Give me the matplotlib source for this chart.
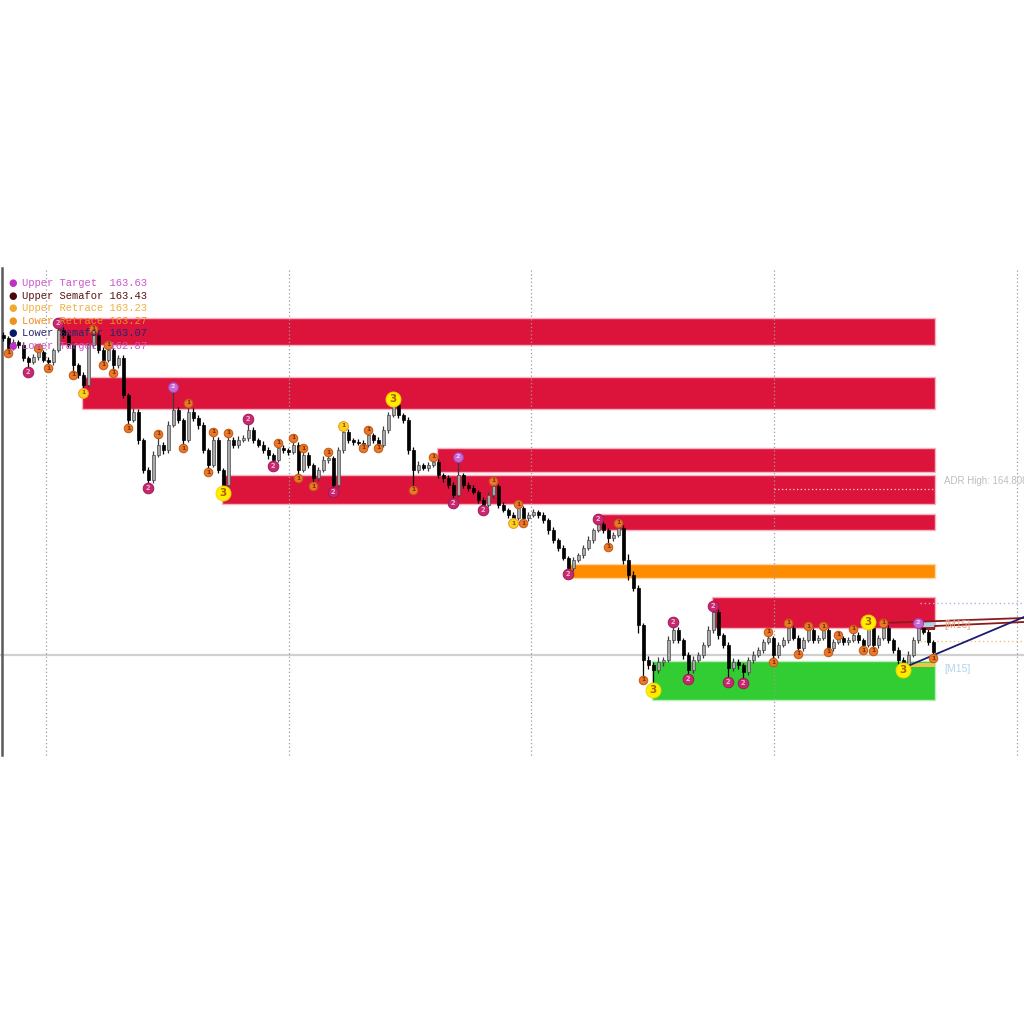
import matplotlib
matplotlib.use('Agg')
import matplotlib.pyplot as plt
from matplotlib.patches import Rectangle

# ---------------- data (prices) ----------------
first_open = 164.65
closes = [
    164.62, 164.52, 164.58, 164.55, 164.42, 164.38, 164.43, 164.48, 164.40, 164.38,
    164.50, 164.70, 164.65, 164.55, 164.35, 164.25, 164.15, 164.55, 164.65, 164.50,
    164.40, 164.50, 164.35, 164.42, 164.05, 163.80, 163.88, 163.60, 163.30, 163.20,
    163.45, 163.55, 163.50, 163.75, 163.90, 163.80, 163.60, 163.88, 163.82, 163.75,
    163.50, 163.35, 163.60, 163.30, 163.15, 163.60, 163.55, 163.60, 163.62, 163.70,
    163.60, 163.55, 163.50, 163.45, 163.40, 163.52, 163.50, 163.48, 163.55, 163.30,
    163.45, 163.35, 163.22, 163.30, 163.40, 163.42, 163.15, 163.50, 163.68, 163.60,
    163.58, 163.57, 163.55, 163.65, 163.60, 163.55, 163.70, 163.85, 163.95, 163.85,
    163.80, 163.50, 163.30, 163.35, 163.32, 163.35, 163.38, 163.25, 163.22, 163.15,
    163.05, 163.25, 163.15, 163.12, 163.08, 163.00, 162.95, 163.05, 163.14, 162.95,
    162.90, 162.85, 162.82, 162.92, 162.82, 162.85, 162.88, 162.85, 162.80, 162.70,
    162.60, 162.52, 162.42, 162.32, 162.40, 162.45, 162.52, 162.60, 162.70, 162.76,
    162.70, 162.62, 162.65, 162.72, 162.40, 162.25, 162.12, 161.75, 161.40, 161.35,
    161.30, 161.38, 161.40, 161.60, 161.70, 161.60, 161.45, 161.30, 161.40, 161.45,
    161.55, 161.70, 161.88, 161.65, 161.55, 161.32, 161.38, 161.35, 161.28, 161.40,
    161.45, 161.50, 161.58, 161.62, 161.45, 161.55, 161.60, 161.72, 161.62, 161.52,
    161.60, 161.70, 161.60, 161.62, 161.70, 161.52, 161.58, 161.62, 161.58, 161.60,
    161.65, 161.60, 161.55, 161.72, 161.55, 161.62, 161.72, 161.60, 161.50, 161.40,
    161.35, 161.45, 161.60, 161.72, 161.68, 161.58, 161.48,
]
# wick lengths above / below the body, in pips (0.01)
wick_up = [
    3, 2, 3, 2, 3, 2, 3, 4, 2, 3,
    2, 7, 3, 2, 3, 2, 3, 3, 6, 2,
    3, 5, 2, 3, 3, 2, 4, 3, 2, 3,
    4, 11, 3, 4, 23, 3, 2, 9, 4, 3,
    3, 2, 8, 3, 2, 7, 3, 4, 3, 11,
    3, 2, 4, 3, 2, 5, 3, 2, 7, 3,
    7, 3, 2, 3, 4, 6, 2, 3, 6, 3,
    2, 3, 3, 5, 2, 3, 4, 3, 6, 3,
    2, 3, 3, 4, 2, 3, 5, 3, 2, 3,
    3, 18, 2, 3, 3, 2, 3, 3, 5, 2,
    3, 2, 3, 4, 2, 3, 3, 2, 3, 2,
    3, 2, 3, 2, 3, 2, 3, 4, 2, 5,
    3, 2, 3, 5, 3, 6, 4, 3, 2, 4,
    3, 5, 3, 4, 8, 3, 2, 3, 4, 3,
    3, 4, 6, 3, 2, 3, 4, 3, 2, 3,
    4, 3, 3, 6, 2, 3, 3, 5, 2, 3,
    3, 4, 2, 3, 4, 2, 3, 3, 2, 3,
    6, 3, 2, 6, 2, 3, 5, 3, 2, 3,
    3, 4, 3, 5, 4, 3, 2,
]
wick_dn = [
    3, 5, 2, 3, 3, 10, 2, 3, 2, 6,
    3, 2, 3, 2, 10, 3, 8, 2, 3, 3,
    5, 2, 8, 3, 3, 8, 2, 4, 3, 8,
    3, 2, 4, 3, 2, 3, 8, 2, 3, 4,
    3, 7, 2, 3, 8, 2, 3, 3, 2, 3,
    3, 2, 3, 4, 6, 2, 3, 3, 2, 8,
    2, 3, 8, 3, 2, 3, 7, 2, 3, 3,
    3, 2, 3, 2, 3, 3, 2, 3, 2, 3,
    3, 4, 20, 3, 2, 3, 2, 3, 4, 3,
    8, 2, 3, 3, 2, 3, 5, 2, 3, 3,
    2, 3, 5, 2, 5, 3, 2, 3, 3, 4,
    3, 3, 2, 6, 3, 2, 3, 2, 3, 2,
    3, 9, 3, 2, 4, 5, 3, 8, 20, 4,
    20, 3, 4, 2, 3, 3, 4, 9, 3, 2,
    3, 2, 3, 4, 3, 14, 3, 4, 11, 3,
    3, 2, 3, 2, 7, 3, 2, 3, 2, 6,
    3, 2, 3, 3, 2, 4, 3, 2, 3, 3,
    2, 3, 5, 2, 6, 3, 2, 3, 3, 4,
    5, 3, 2, 3, 2, 3, 6,
]

# semafor signals: candle index and level ('1' small, '2' medium, '2v' target, '3' big, 'r' retrace)
upper_idx = [7, 11, 18, 21, 31, 34, 37, 42, 45, 49, 55, 58, 60, 65, 68, 73, 78, 86, 91, 98,
             103, 119, 123, 134, 142, 153, 157, 161, 164, 167, 170, 173, 176, 183]
upper_lvl = ['1', '2', '1', '1', '1', '2v', '1', '1', '1', '2', '1', '1', '1', '1', 'r', '1', '3', '1', '2v', '1',
             '1', '2', '1', '2', '2', '1', '1', '1', '1', '1', '1', '3', '1', '2v']
lower_idx = [1, 5, 9, 14, 16, 20, 22, 25, 29, 36, 41, 44, 54, 59, 62, 66, 72, 75, 82, 90,
             96, 102, 104, 113, 121, 128, 130, 137, 145, 148, 154, 159, 165, 172, 174, 180, 186]
lower_lvl = ['1', '2', '1', '1', 'r', '1', '1', '1', '2', '1', '1', '3', '2', '1', '1', '2', '1', '1', '1', '2',
             '2', 'r', '1', '2', '1', '1', '3', '2', '2', '2', '1', '1', '1', '1', '1', '3', '1']

# supply / demand zones
zone_start = [11, 16, 87, 44, 119, 113, 142, 130]
zone_top = [164.82, 164.23, 163.52, 163.25, 162.86, 162.36, 162.03, 161.39]
zone_bottom = [164.55, 163.91, 163.28, 162.96, 162.70, 162.22, 161.72, 161.00]
zone_kind = ['supply', 'supply', 'supply', 'supply', 'supply', 'retrace', 'supply', 'demand']

session_breaks = [8.6, 57.2, 105.6, 154.2, 202.8]
current_price = 161.45
adr_high_level = 163.11
adr_start = 154.2
upper_target_level = 161.97
lower_retrace_level = 161.59

legend_names = ['Upper Target ', 'Upper Semafor', 'Upper Retrace', 'Lower Retrace', 'Lower Semafor', 'Lower Target ']
legend_values = ['163.63', '163.43', '163.23', '163.27', '163.07', '162.87']
legend_text_colors = ['#CC55CC', '#5A1414', '#F0B040', '#F08A20', '#26266E', '#CC55CC']
legend_dot_colors = ['#C030C8', '#4A0808', '#F0A830', '#F09020', '#0A1A6A', '#C030C8']
adr_label = 'ADR High: 164.808'
tf_label = '[M15]'

# trend lines: (index, price) pairs
res_line_a = [(176, 161.77), (204.2, 161.82)]
res_line_b = [(186.4, 161.74), (204.2, 161.78)]
sup_line = [(180, 161.32), (204.2, 161.83)]

# ---------------- figure ----------------
fig = plt.figure(figsize=(10.24, 10.24), dpi=100)
ax = fig.add_axes([0, 0, 1, 1])
ax.set_xlim(-0.6, 204.2)
ax.set_ylim(157.76, 168.0)
ax.axis('off')

n = len(closes)
last = n - 1 + 0.4
y_top, y_bot = 165.32, 160.45

opens = [first_open] + closes[:-1]
highs = [max(o, c) + w * 0.01 for o, c, w in zip(opens, closes, wick_up)]
lows = [min(o, c) - w * 0.01 for o, c, w in zip(opens, closes, wick_dn)]

# left border & current price line
ax.plot([-0.2, -0.2], [y_bot, y_top], color='#5A5A5A', lw=1.8, zorder=1)
ax.axhline(current_price, color='#D0D0D0', lw=1.6, zorder=0.5)

# zones
zcol = {'supply': '#DC143C', 'retrace': '#FF8C00', 'demand': '#32CD32'}
zedge = {'supply': '#F6B3C2', 'retrace': '#FFD5A8', 'demand': '#B8EEB8'}
for s, t, b, k in zip(zone_start, zone_top, zone_bottom, zone_kind):
    ax.add_patch(Rectangle((s - 0.3, b), last - s + 0.3, t - b, facecolor=zcol[k],
                           edgecolor=zedge[k], lw=1.0, zorder=1))

# session separators
ax.vlines(session_breaks, y_bot, y_top, colors='#9C9C9C', linestyles=(0, (1, 2)), lw=0.9, zorder=2)
# ADR high line
ax.plot([adr_start, last], [adr_high_level, adr_high_level], color='#F8D8E0', lw=0.9,
        linestyle=(0, (1, 2)), zorder=2)
# right side dotted levels
ax.plot([183.4, 204.2], [upper_target_level, upper_target_level], color='#C9A8E0', lw=1.0,
        linestyle=(0, (1, 2)), zorder=2)
ax.plot([183.4, 204.2], [lower_retrace_level, lower_retrace_level], color='#F3C080', lw=1.0,
        linestyle=(0, (1, 2)), zorder=2)

# candles
for i in range(n):
    o, c, h, l = opens[i], closes[i], highs[i], lows[i]
    bear = c < o
    wc = '#000000' if bear else '#3A3A3A'
    ax.plot([i, i], [l, h], color=wc, lw=0.9, zorder=3, solid_capstyle='butt')
    bh = max(abs(c - o), 0.012)
    ax.add_patch(Rectangle((i - 0.3, min(o, c)), 0.6, bh,
                           facecolor='#000000' if bear else '#A8A8A8',
                           edgecolor='#000000' if bear else '#4A4A4A', lw=0.5, zorder=3.5))

# small markers at the right end
ax.add_patch(Rectangle((183.4, 161.72), 3.0, 0.06, facecolor='#A9D3EC', edgecolor='none', zorder=3.2))
ax.add_patch(Rectangle((183.4, 161.70), 3.0, 0.025, facecolor='#A82020', edgecolor='none', zorder=3.3))
ax.add_patch(Rectangle((180.4, 161.33), 6.0, 0.035, facecolor='#F2C24A', edgecolor='none', zorder=3.2))

# trend lines
for ln, col in ((res_line_a, '#8B1A1A'), (res_line_b, '#8B1A1A'), (sup_line, '#1C1C72')):
    ax.plot([ln[0][0], ln[1][0]], [ln[0][1], ln[1][1]], color=col, lw=1.3, zorder=4)

# semafor markers
style = {
    '1': dict(s=38, fc='#E9782C', ec='#C25A12', txt='1', fs=4.3, tc='#7A3000'),
    '2': dict(s=58, fc='#C8286E', ec='#A0185A', txt='2', fs=4.8, tc='#F6B8D4'),
    '2v': dict(s=52, fc='#C868D0', ec='#A23CB4', txt='2', fs=4.6, tc='#F2D0F4'),
    '3': dict(s=115, fc='#FFEE00', ec='#F6D400', txt='3', fs=7.5, tc='#B05E00'),
    'r': dict(s=50, fc='#F7D21E', ec='#EE9A20', txt='1', fs=4.3, tc='#9A5000'),
}


def draw_sem(i, y, lvl):
    st = style[lvl]
    ax.scatter([i], [y], s=st['s'], c=st['fc'], edgecolors=st['ec'], linewidths=0.7, zorder=5)
    ax.text(i, y, st['txt'], fontsize=st['fs'], color=st['tc'], ha='center', va='center',
            fontweight='bold', zorder=6)


for i, lv in zip(upper_idx, upper_lvl):
    draw_sem(i, highs[i], lv)
for i, lv in zip(lower_idx, lower_lvl):
    draw_sem(i, lows[i], lv)

# legend (pixel positions)
def fx(px):
    return px / 1024.0


def fy(py):
    return 1 - py / 1024.0


for k, (nm, val, tc, dc) in enumerate(zip(legend_names, legend_values, legend_text_colors, legend_dot_colors)):
    py = 283 + k * 12.6
    fig.text(fx(13), fy(py), '\u25CF', color=dc, fontsize=7, ha='center', va='center',
             family='DejaVu Sans', zorder=7)
    fig.text(fx(22), fy(py), nm + ' ' + val, color=tc, fontsize=7.6, ha='left', va='center',
             family='Liberation Mono', zorder=7)

# right-side labels
fig.text(fx(944), fy(481), adr_label, color='#BDBDBD', fontsize=7, ha='left', va='center',
         family='Liberation Sans')
fig.text(fx(944), fy(625), tf_label, color='#E9A07E', fontsize=7.5, ha='left', va='center',
         family='Liberation Sans')
fig.text(fx(944), fy(669), tf_label, color='#B4D4EA', fontsize=7.5, ha='left', va='center',
         family='Liberation Sans')

fig.savefig('out.png', dpi=100, facecolor='white')
